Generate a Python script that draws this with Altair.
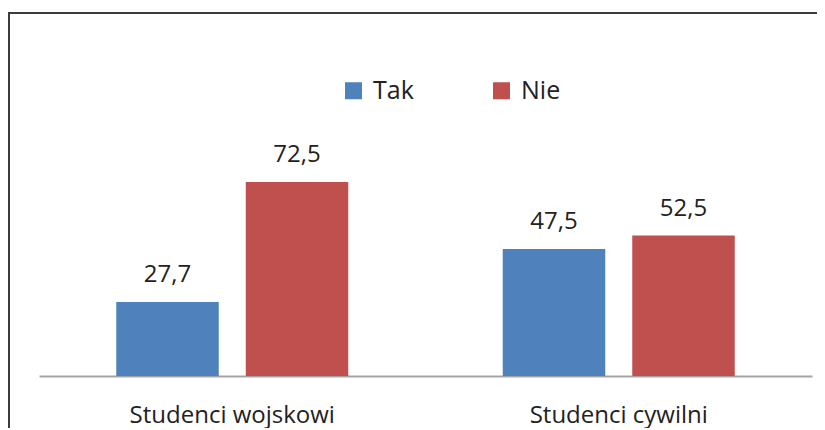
import altair as alt
import pandas as pd

categories = ["Studenci wojskowi", "Studenci cywilni"]
series = ["Tak", "Nie"]
tak_values = [27.7, 47.5]
nie_values = [72.5, 52.5]
colors = ["#4F81BD", "#C0504D"]

rows = []
for i, c in enumerate(categories):
    for s, vals in zip(series, [tak_values, nie_values]):
        v = vals[i]
        rows.append({"grupa": c, "odp": s, "val": v, "lab": f"{v:.1f}".replace(".", ",")})
df = pd.DataFrame(rows)

FONT = "Open Sans"
TXT = "#222222"

base = alt.Chart(df).encode(
    x=alt.X(
        "grupa:N",
        sort=categories,
        scale=alt.Scale(paddingInner=0, paddingOuter=0),
        axis=alt.Axis(
            title=None, labelAngle=0, ticks=False, tickSize=0, grid=False,
            domainColor="#A5A5A5", domainWidth=2,
            labelFontSize=24, labelFont=FONT, labelColor=TXT,
            labelPadding=46, labelBaseline="alphabetic", labelLimit=400,
        ),
    ),
    xOffset=alt.XOffset("odp:N", sort=series,
                        scale=alt.Scale(paddingInner=0.2085, paddingOuter=0.5966)),
    y=alt.Y("val:Q", scale=alt.Scale(domain=[0, 80], nice=False), axis=None),
)

bars = base.mark_bar().encode(
    color=alt.Color(
        "odp:N", sort=series,
        scale=alt.Scale(domain=series, range=colors),
        legend=alt.Legend(
            title=None, orient="none", direction="horizontal",
            legendX=302, legendY=-84, padding=0,
            symbolType="square", symbolSize=289, symbolStrokeWidth=0,
            labelFontSize=25, labelFont=FONT, labelColor=TXT,
            labelOffset=7, columnPadding=75,
        ),
    )
)

text = base.mark_text(
    baseline="alphabetic", dy=-20, fontSize=24, font=FONT, color=TXT
).encode(text="lab:N")

frame_top = alt.Chart(df).mark_rule(stroke="#3C3C3C", strokeWidth=2).encode(
    x=alt.value(-31), x2=alt.value(778), y=alt.value(-149), y2=alt.value(-149),
)
frame_left = alt.Chart(df).mark_rule(stroke="#3C3C3C", strokeWidth=2).encode(
    x=alt.value(-30), x2=alt.value(-30), y=alt.value(-150), y2=alt.value(266),
)

chart = alt.layer(frame_top, frame_left, bars, text).properties(
    width=773, height=214,
    autosize=alt.AutoSizeParams(type="none"),
    padding={"left": 31, "top": 154, "right": 5, "bottom": 52},
).configure_view(stroke=None)

chart.save("out.html", embed_options={"renderer": "svg", "actions": False})
